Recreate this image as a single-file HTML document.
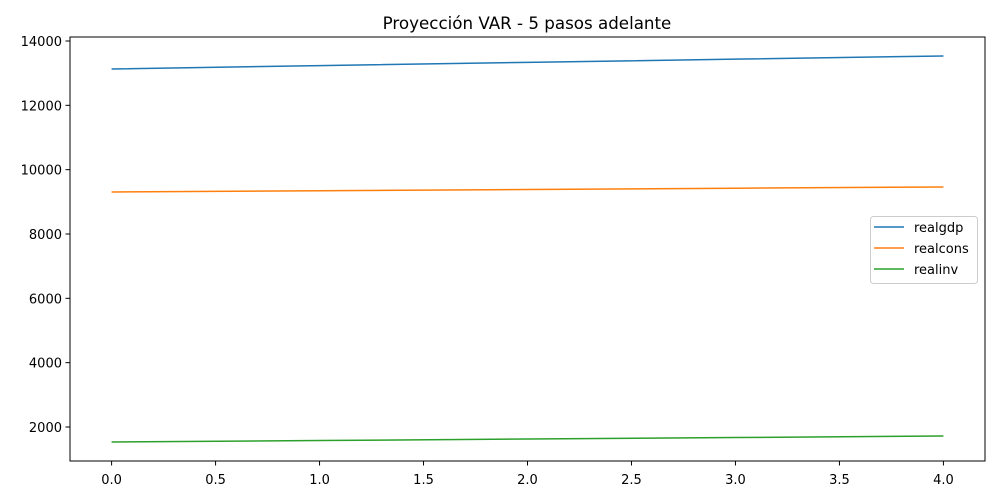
<!DOCTYPE html>
<html><head><meta charset="utf-8"><style>
body{margin:0;background:#fff;font-family:"DejaVu Sans","Liberation Sans",sans-serif;}
svg text{font-family:"DejaVu Sans","Liberation Sans",sans-serif;}
</style></head><body>
<svg id="chart" width="1000" height="500">
<text x="527" y="29" font-size="16.7" text-anchor="middle">Proyección VAR - 5 pasos adelante</text>
<g id="grid"></g>
<g id="series"></g>
<rect x="70" y="37" width="915" height="424" fill="none" stroke="#000" stroke-width="1"/>
<g>
<rect x="870.5" y="216.5" width="107" height="67" rx="3" fill="#fff" stroke="#ccc"/>
<line x1="874" y1="227" x2="904" y2="227" stroke="#1f77b4" stroke-width="1.5"/>
<text x="914" y="232" font-size="13">realgdp</text>
<line x1="874" y1="248" x2="904" y2="248" stroke="#ff7f0e" stroke-width="1.5"/>
<text x="914" y="253" font-size="13">realcons</text>
<line x1="874" y1="269" x2="904" y2="269" stroke="#2ca02c" stroke-width="1.5"/>
<text x="914" y="274" font-size="13">realinv</text>
</g>
</svg>
<script>
const steps = [0, 1, 2, 3, 4];
const realgdp = [13130, 13235, 13335, 13435, 13534];
const realcons = [9306, 9345, 9384, 9423, 9462];
const realinv = [1534, 1580, 1626, 1672, 1720];
const xTicks = [0, 0.5, 1, 1.5, 2, 2.5, 3, 3.5, 4];
const yTicks = [2000, 4000, 6000, 8000, 10000, 12000, 14000];

const NS = "http://www.w3.org/2000/svg";
function xs(v){ return 70 + (v + 0.2) / 4.4 * 915; }
function ys(v){ return 461 - (v - 943) / (14124 - 943) * 424; }
const grid = document.getElementById('grid');
xTicks.forEach(t => {
  const l = document.createElementNS(NS,'line');
  l.setAttribute('x1', xs(t)); l.setAttribute('x2', xs(t));
  l.setAttribute('y1', 461); l.setAttribute('y2', 465.5); l.setAttribute('stroke', '#000');
  
  
  grid.appendChild(l);
  const tx = document.createElementNS(NS,'text');
  tx.setAttribute('x', xs(t)); tx.setAttribute('y', 484);
  tx.setAttribute('font-size', '13'); tx.setAttribute('text-anchor', 'middle');
  tx.textContent = t.toFixed(1);
  
  
  grid.appendChild(tx);
});
yTicks.forEach(t => {
  const l = document.createElementNS(NS,'line');
  l.setAttribute('x1', 65.5); l.setAttribute('x2', 70);
  l.setAttribute('y1', ys(t)); l.setAttribute('y2', ys(t)); l.setAttribute('stroke', '#000');
  
  
  grid.appendChild(l);
  const tx = document.createElementNS(NS,'text');
  tx.setAttribute('x', 62); tx.setAttribute('y', ys(t) + 5);
  tx.setAttribute('font-size', '13'); tx.setAttribute('text-anchor', 'end');
  tx.textContent = t;
  
  
  grid.appendChild(tx);
});
const seriesG = document.getElementById('series');
[[realgdp,'#1f77b4','line-realgdp'],[realcons,'#ff7f0e','line-realcons'],[realinv,'#2ca02c','line-realinv']].forEach(s => {
  const p = document.createElementNS(NS,'polyline');
  p.setAttribute('points', steps.map((x,i) => xs(x) + ',' + ys(s[0][i])).join(' '));
  p.setAttribute('fill', 'none'); p.setAttribute('stroke', s[1]); p.setAttribute('stroke-width', '1.5');
  
  
  seriesG.appendChild(p);
});
</script>
</body></html>
